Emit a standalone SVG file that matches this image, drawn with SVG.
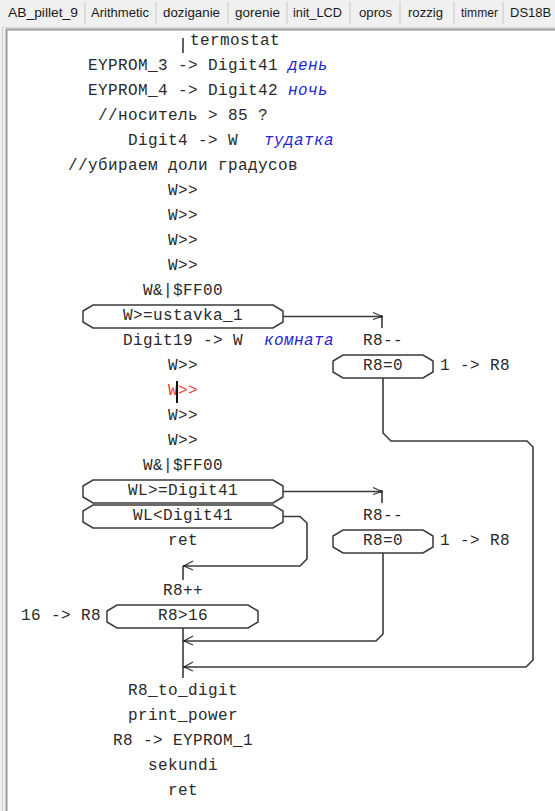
<svg xmlns="http://www.w3.org/2000/svg" width="555" height="811" viewBox="0 0 555 811">
<style>
.tab{font-family:"Liberation Sans",Arial,sans-serif;font-size:13px;fill:#1a1a1a}
.t{font-family:"Liberation Mono","DejaVu Sans Mono",monospace;font-size:16px;letter-spacing:0.4px;fill:#2a2a2a;text-anchor:middle}
.l{text-anchor:start}
.e{text-anchor:end}
.c{font-family:"Liberation Mono","DejaVu Sans Mono",monospace;font-size:16px;letter-spacing:0.4px;font-style:italic;fill:#2424d6}
.red{fill:#f03a3a}
.hex{fill:#fff;stroke:#3a3a3a;stroke-width:1.5}
.ln{fill:none;stroke:#3a3a3a;stroke-width:1.6}
.sep{stroke:#c8c8c8;stroke-width:1}
</style>
<defs>
<marker id="arL" viewBox="0 0 12 12" refX="1" refY="6" markerWidth="12" markerHeight="12" markerUnits="userSpaceOnUse" orient="0">
<path d="M10,1 L1,6 L10,10" fill="none" stroke="#3a3a3a" stroke-width="1.3"/>
<rect x="0" y="5" width="3" height="2" fill="#222"/>
</marker>
<marker id="arR" viewBox="0 0 12 12" refX="11" refY="6" markerWidth="12" markerHeight="12" markerUnits="userSpaceOnUse" orient="0">
<path d="M2,2 L11,6 L2,9" fill="none" stroke="#3a3a3a" stroke-width="1.3"/>
<rect x="9" y="5" width="3" height="2" fill="#222"/>
</marker>
</defs>

<!-- window chrome -->
<rect x="0" y="0" width="555" height="811" fill="#f0f0f0"/>
<g id="tabs">
<line class="sep" x1="85" y1="2" x2="85" y2="24"/>
<line class="sep" x1="156" y1="2" x2="156" y2="24"/>
<line class="sep" x1="228" y1="2" x2="228" y2="24"/>
<line class="sep" x1="287" y1="2" x2="287" y2="24"/>
<line class="sep" x1="350" y1="2" x2="350" y2="24"/>
<line class="sep" x1="400" y1="2" x2="400" y2="24"/>
<line class="sep" x1="454" y1="2" x2="454" y2="24"/>
<line class="sep" x1="503" y1="2" x2="503" y2="24"/>
<text class="tab" x="8" y="17" textLength="70" lengthAdjust="spacingAndGlyphs">AB_pillet_9</text>
<text class="tab" x="91" y="17" textLength="58" lengthAdjust="spacingAndGlyphs">Arithmetic</text>
<text class="tab" x="163" y="17" textLength="57" lengthAdjust="spacingAndGlyphs">doziganie</text>
<text class="tab" x="235" y="17" textLength="45" lengthAdjust="spacingAndGlyphs">gorenie</text>
<text class="tab" x="293" y="17" textLength="49" lengthAdjust="spacingAndGlyphs">init_LCD</text>
<text class="tab" x="359" y="17" textLength="33" lengthAdjust="spacingAndGlyphs">opros</text>
<text class="tab" x="408" y="17" textLength="35" lengthAdjust="spacingAndGlyphs">rozzig</text>
<text class="tab" x="461" y="17" textLength="37" lengthAdjust="spacingAndGlyphs">timmer</text>
<text class="tab" x="510" y="17">DS18B</text>
</g>
<rect x="8" y="31" width="547" height="780" fill="#fff"/>
<line x1="2" y1="27.5" x2="555" y2="27.5" stroke="#d8d8d8" stroke-width="1"/>
<line x1="6" y1="29.5" x2="555" y2="29.5" stroke="#a0a0a0" stroke-width="2"/>
<line x1="2.5" y1="27" x2="2.5" y2="811" stroke="#d0d0d0" stroke-width="1"/>
<line x1="6.5" y1="29" x2="6.5" y2="811" stroke="#a0a0a0" stroke-width="2"/>

<!-- connectors -->
<g id="connectors">
<path class="ln" d="M183,38 V53"/>
<path class="ln" d="M283,316.5 H382" marker-end="url(#arR)"/>
<path class="ln" d="M382,316.5 V328"/>
<path class="ln" d="M383,378 V433 L391,441 H527 L533,447 V660 L526,667 H184" marker-end="url(#arL)"/>
<path class="ln" d="M283,491.5 H382" marker-end="url(#arR)"/>
<path class="ln" d="M382,491.5 V503"/>
<path class="ln" d="M283,516.5 H300 L307,523 V559 L300,566 H184" marker-end="url(#arL)"/>
<path class="ln" d="M383,553 V634 L376,641 H184" marker-end="url(#arL)"/>
<path class="ln" d="M183,566 V580"/>
<path class="ln" d="M183,628 V678"/>
</g>

<!-- nodes -->
<g id="n_title"><text class="t l" x="190" y="45">termostat</text></g>
<g id="n_eyprom3"><text class="t" x="183" y="70">EYPROM_3 -&gt; Digit41</text><text class="c" x="288" y="70">день</text></g>
<g id="n_eyprom4"><text class="t" x="183" y="95">EYPROM_4 -&gt; Digit42</text><text class="c" x="288" y="95">ночь</text></g>
<g id="n_nositel"><text class="t" x="183" y="120">//носитель &gt; 85 ?</text></g>
<g id="n_digit4"><text class="t" x="183" y="145">Digit4 -&gt; W</text><text class="c" x="264" y="145">тудатка</text></g>
<g id="n_ubiraem"><text class="t" x="183" y="170">//убираем доли градусов</text></g>
<g id="n_w1"><text class="t" x="183" y="195">W&gt;&gt;</text></g>
<g id="n_w2"><text class="t" x="183" y="220">W&gt;&gt;</text></g>
<g id="n_w3"><text class="t" x="183" y="245">W&gt;&gt;</text></g>
<g id="n_w4"><text class="t" x="183" y="270">W&gt;&gt;</text></g>
<g id="n_and1"><text class="t" x="183" y="295">W&amp;|$FF00</text></g>
<g id="n_cmp1">
<polygon class="hex" points="93,305 273,305 283,311 283,322 273,328 93,328 83,322 83,311"/>
<text class="t" x="183" y="320">W&gt;=ustavka_1</text>
</g>
<g id="n_digit19"><text class="t" x="183" y="345">Digit19 -&gt; W</text><text class="c" x="264" y="345">комната</text></g>
<g id="n_r8dec1"><text class="t" x="383" y="345">R8--</text></g>
<g id="n_r8zero1">
<polygon class="hex" points="343,355 423,355 433,361 433,372 423,378 343,378 333,372 333,361"/>
<text class="t" x="383" y="370">R8=0</text>
<text class="t l" x="440" y="370">1 -&gt; R8</text>
</g>
<g id="n_w5"><text class="t" x="183" y="370">W&gt;&gt;</text></g>
<g id="n_w6"><text class="t red" x="183" y="395">W&gt;&gt;</text><rect x="176" y="381" width="2" height="22" fill="#111"/></g>
<g id="n_w7"><text class="t" x="183" y="420">W&gt;&gt;</text></g>
<g id="n_w8"><text class="t" x="183" y="445">W&gt;&gt;</text></g>
<g id="n_and2"><text class="t" x="183" y="470">W&amp;|$FF00</text></g>
<g id="n_cmp2">
<polygon class="hex" points="93,480 273,480 283,486 283,497 273,503 93,503 83,497 83,486"/>
<text class="t" x="183" y="495">WL&gt;=Digit41</text>
</g>
<g id="n_cmp3">
<polygon class="hex" points="93,505 273,505 283,511 283,522 273,528 93,528 83,522 83,511"/>
<text class="t" x="183" y="520">WL&lt;Digit41</text>
</g>
<g id="n_r8dec2"><text class="t" x="383" y="520">R8--</text></g>
<g id="n_ret1"><text class="t" x="183" y="545">ret</text></g>
<g id="n_r8zero2">
<polygon class="hex" points="343,530 423,530 433,536 433,547 423,553 343,553 333,547 333,536"/>
<text class="t" x="383" y="545">R8=0</text>
<text class="t l" x="440" y="545">1 -&gt; R8</text>
</g>
<g id="n_r8inc"><text class="t" x="183" y="595">R8++</text></g>
<g id="n_r8gt16">
<polygon class="hex" points="117,605 248,605 258,611 258,622 248,628 117,628 107,622 107,611"/>
<text class="t" x="183" y="620">R8&gt;16</text>
<text class="t e" x="101" y="620">16 -&gt; R8</text>
</g>
<g id="n_todigit"><text class="t" x="183" y="695">R8_to_digit</text></g>
<g id="n_print"><text class="t" x="183" y="720">print_power</text></g>
<g id="n_save"><text class="t" x="183" y="745">R8 -&gt; EYPROM_1</text></g>
<g id="n_sek"><text class="t" x="183" y="770">sekundi</text></g>
<g id="n_ret2"><text class="t" x="183" y="795">ret</text></g>
</svg>
